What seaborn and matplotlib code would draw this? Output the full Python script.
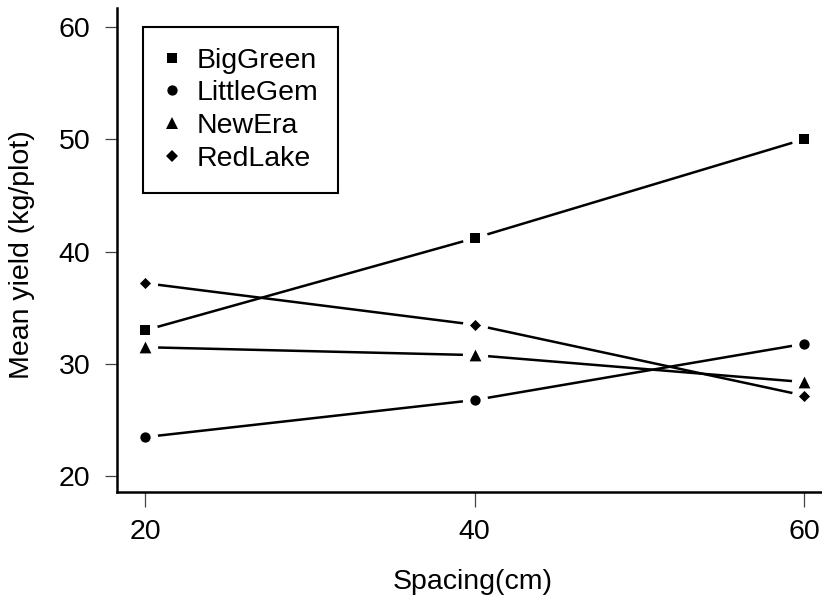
import numpy as np
import pandas as pd
import seaborn as sns
import matplotlib.pyplot as plt
from matplotlib.lines import Line2D

# Dados (médias)
spacing = [20, 40, 60]
big_green = [33.0, 41.2, 50.0]
little_gem = [23.5, 26.8, 31.8]
new_era = [31.5, 30.8, 28.4]
red_lake = [37.2, 33.5, 27.2]
varieties = ["BigGreen", "LittleGem", "NewEra", "RedLake"]

df = pd.DataFrame({
    "Spacing": spacing * 4,
    "Yield": big_green + little_gem + new_era + red_lake,
    "Variety": np.repeat(varieties, len(spacing)),
})

marker_map = {"BigGreen": "s", "LittleGem": "o", "NewEra": "^", "RedLake": "D"}
size_map = {"BigGreen": 52, "LittleGem": 55, "NewEra": 72, "RedLake": 32}

# Estilo
sns.set_style("ticks")
plt.rcParams["font.family"] = ["Liberation Sans", "DejaVu Sans"]
plt.rcParams["text.color"] = "black"
plt.rcParams["axes.labelcolor"] = "black"
fs = 20.5

fig = plt.figure(figsize=(8.22, 6.05), dpi=100)
ax = fig.add_axes([0.1423, 0.1868, 0.8577, 0.80])

# Linhas
sns.lineplot(data=df, x="Spacing", y="Yield", units="Variety", estimator=None,
             color="black", linewidth=1.8, ax=ax, zorder=2, legend=False)

# "Buracos" brancos em volta dos pontos (estilo type="b" do R)
sns.scatterplot(data=df, x="Spacing", y="Yield", color="white", s=330,
                linewidth=0, ax=ax, zorder=3, legend=False)

# Marcadores
for v in varieties:
    sub = df[df["Variety"] == v]
    sns.scatterplot(data=sub, x="Spacing", y="Yield", marker=marker_map[v],
                    s=size_map[v], color="black", linewidth=0, ax=ax,
                    zorder=4, legend=False)

# Eixos
ax.set_xlim(18.30, 61.09)
ax.set_ylim(18.62, 61.68)
ax.set_xticks(spacing)
ax.set_yticks([20, 30, 40, 50, 60])
ax.tick_params(axis="both", labelsize=fs, color="#444444", width=0.9,
               labelcolor="black")
ax.tick_params(axis="x", length=10.5, pad=9)
ax.tick_params(axis="y", length=8.6, pad=10.5)

ax.set_xlabel("Spacing(cm)", fontsize=fs, color="black")
ax.set_ylabel("Mean yield (kg/plot)", fontsize=fs, color="black")
ax.xaxis.set_label_coords(0.505, -0.159)
ax.yaxis.set_label_coords(-0.116, 0.49)

for side in ["top", "right"]:
    ax.spines[side].set_visible(False)
for side in ["left", "bottom"]:
    ax.spines[side].set_linewidth(1.8)
    ax.spines[side].set_color("black")

# Legenda
handles = [Line2D([], [], marker=marker_map[v], linestyle="none", color="black",
                  markersize=np.sqrt(size_map[v]), markeredgewidth=0)
           for v in varieties]
leg = ax.legend(handles, varieties, loc="upper left",
                bbox_to_anchor=(0.0369, 0.9607), borderaxespad=0,
                fontsize=fs, frameon=True, fancybox=False,
                handlelength=0.6, handletextpad=0.55, borderpad=0.72,
                labelspacing=0.24)
for t in leg.get_texts():
    t.set_color("black")
leg.get_frame().set_edgecolor("black")
leg.get_frame().set_linewidth(1.5)
leg.get_frame().set_facecolor("white")
leg.get_frame().set_alpha(1)

fig.savefig("out.png", dpi=100)
